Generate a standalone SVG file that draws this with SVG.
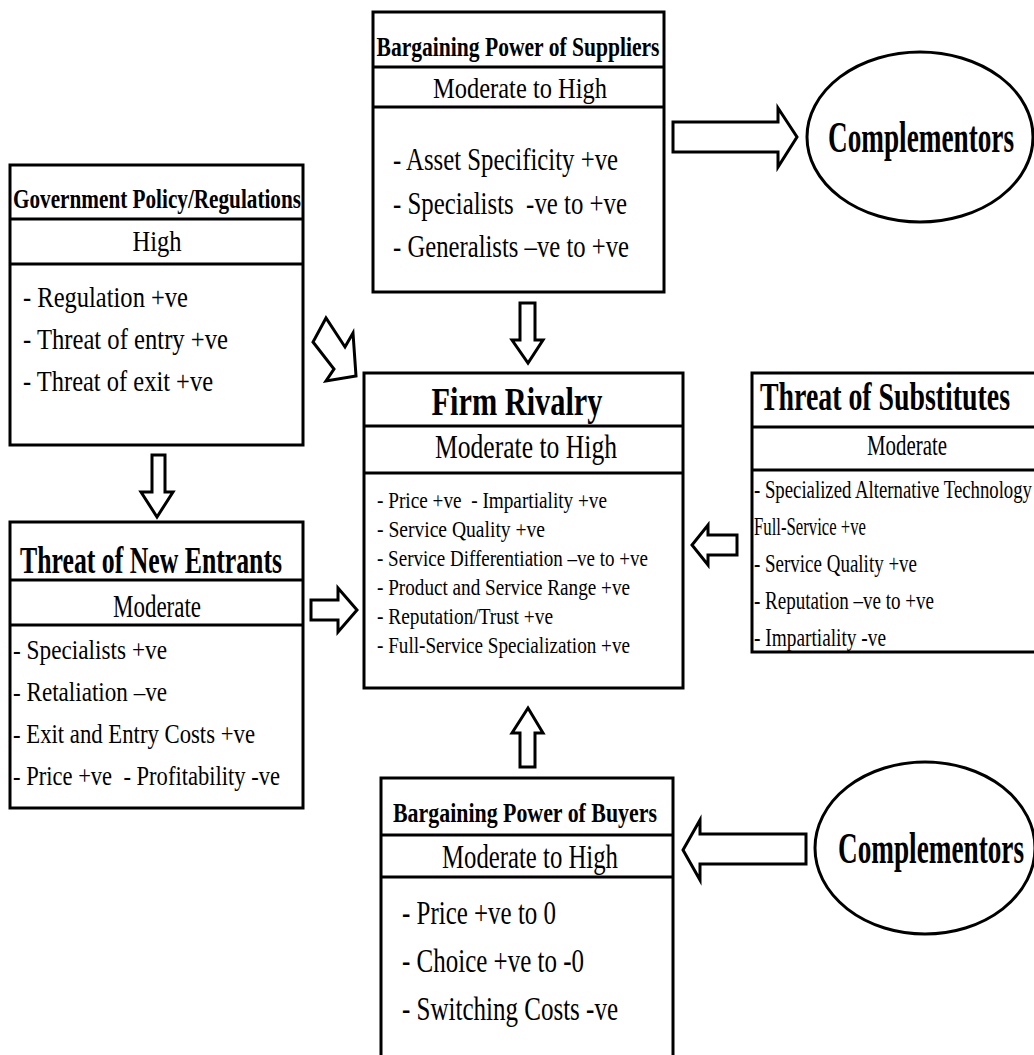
<svg xmlns="http://www.w3.org/2000/svg" width="1034" height="1055" viewBox="0 0 1034 1055">
<style>
.box{fill:#fff;stroke:#000;stroke-width:3}
.ln{stroke:#000;stroke-width:3}
.arr{fill:#fff;stroke:#000;stroke-width:3;stroke-linejoin:miter}
.ell{fill:#fff;stroke:#000;stroke-width:3}
text{font-family:"Liberation Serif","Times New Roman",serif;fill:#000}
.b{font-weight:bold}
.m{text-anchor:middle}
</style>
<rect width="1034" height="1055" fill="#fff"/>

<g id="connectors">
<polygon class="arr" points="673,122 778,122 778,108 797,137 778,167 778,152 673,152"/>
<polygon class="arr" points="520,303 535,303 535,340 543,340 528,363 512,340 520,340"/>
<polygon class="arr" points="326,318 313,342 334,369 326,381 356,376 353,333 345,347"/>
<polygon class="arr" points="152,455 165,455 165,492 173,492 157,517 141,492 152,492"/>
<polygon class="arr" points="311,600 338,600 338,588 357,610 338,632 338,620 311,620"/>
<polygon class="arr" points="737,535 708,535 708,525 692,545 708,565 708,555 737,555"/>
<polygon class="arr" points="520,767 535,767 535,733 543,733 528,708 512,733 520,733"/>
<polygon class="arr" points="806,834 700,834 700,820 683,850 700,880 700,864 806,864"/>
</g>

<g id="suppliers">
<rect class="box" x="373" y="12" width="291" height="280"/>
<line class="ln" x1="373" y1="67" x2="664" y2="67"/>
<line class="ln" x1="373" y1="107" x2="664" y2="107"/>
<text class="b m" x="518" y="56" font-size="27" textLength="283" lengthAdjust="spacingAndGlyphs">Bargaining Power of Suppliers</text>
<text class="m" x="520" y="98" font-size="29" textLength="174" lengthAdjust="spacingAndGlyphs">Moderate to High</text>
<text x="393" y="170" font-size="31" textLength="225" lengthAdjust="spacingAndGlyphs">- Asset Specificity +ve</text>
<text x="393" y="214" font-size="31" textLength="234" lengthAdjust="spacingAndGlyphs">- Specialists&#160; -ve to +ve</text>
<text x="393" y="257" font-size="31" textLength="236" lengthAdjust="spacingAndGlyphs">- Generalists –ve to +ve</text>
</g>

<g id="complementors-top">
<ellipse class="ell" cx="920" cy="137" rx="113" ry="85"/>
<text class="b m" x="921" y="152" font-size="45" textLength="186" lengthAdjust="spacingAndGlyphs">Complementors</text>
</g>

<g id="government">
<rect class="box" x="10" y="165" width="293" height="280"/>
<line class="ln" x1="10" y1="219" x2="303" y2="219"/>
<line class="ln" x1="10" y1="264" x2="303" y2="264"/>
<text class="b" x="13" y="208" font-size="27" textLength="288" lengthAdjust="spacingAndGlyphs">Government Policy/Regulations</text>
<text class="m" x="157" y="251" font-size="30" textLength="49" lengthAdjust="spacingAndGlyphs">High</text>
<text x="23" y="307" font-size="30" textLength="165" lengthAdjust="spacingAndGlyphs">- Regulation +ve</text>
<text x="23" y="349" font-size="30" textLength="205" lengthAdjust="spacingAndGlyphs">- Threat of entry +ve</text>
<text x="23" y="391" font-size="30" textLength="190" lengthAdjust="spacingAndGlyphs">- Threat of exit +ve</text>
</g>

<g id="new-entrants">
<rect class="box" x="10" y="522" width="293" height="286"/>
<line class="ln" x1="10" y1="580" x2="303" y2="580"/>
<line class="ln" x1="10" y1="625" x2="303" y2="625"/>
<text class="b m" x="151" y="573" font-size="37" textLength="262" lengthAdjust="spacingAndGlyphs">Threat of New Entrants</text>
<text class="m" x="157" y="617" font-size="31" textLength="88" lengthAdjust="spacingAndGlyphs">Moderate</text>
<text x="13" y="659" font-size="27" textLength="154" lengthAdjust="spacingAndGlyphs">- Specialists +ve</text>
<text x="13" y="701" font-size="27" textLength="154" lengthAdjust="spacingAndGlyphs">- Retaliation –ve</text>
<text x="13" y="743" font-size="27" textLength="242" lengthAdjust="spacingAndGlyphs">- Exit and Entry Costs +ve</text>
<text x="13" y="785" font-size="27" textLength="267" lengthAdjust="spacingAndGlyphs">- Price +ve&#160; - Profitability -ve</text>
</g>

<g id="firm-rivalry">
<rect class="box" x="364" y="373" width="319" height="315"/>
<line class="ln" x1="364" y1="426" x2="683" y2="426"/>
<line class="ln" x1="364" y1="473" x2="683" y2="473"/>
<text class="b m" x="517" y="415" font-size="39" textLength="171" lengthAdjust="spacingAndGlyphs">Firm Rivalry</text>
<text class="m" x="526" y="458" font-size="33" textLength="182" lengthAdjust="spacingAndGlyphs">Moderate to High</text>
<text x="377" y="508" font-size="24" textLength="230" lengthAdjust="spacingAndGlyphs">- Price +ve&#160; - Impartiality +ve</text>
<text x="377" y="537" font-size="24" textLength="168" lengthAdjust="spacingAndGlyphs">- Service Quality +ve</text>
<text x="377" y="566" font-size="24" textLength="271" lengthAdjust="spacingAndGlyphs">- Service Differentiation –ve to +ve</text>
<text x="377" y="595" font-size="24" textLength="253" lengthAdjust="spacingAndGlyphs">- Product and Service Range +ve</text>
<text x="377" y="624" font-size="24" textLength="176" lengthAdjust="spacingAndGlyphs">- Reputation/Trust +ve</text>
<text x="377" y="653" font-size="24" textLength="253" lengthAdjust="spacingAndGlyphs">- Full-Service Specialization +ve</text>
</g>

<g id="substitutes">
<rect class="box" x="752" y="373" width="290" height="279"/>
<line class="ln" x1="752" y1="427" x2="1034" y2="427"/>
<line class="ln" x1="752" y1="470" x2="1034" y2="470"/>
<text class="b" x="760" y="410" font-size="39" textLength="250" lengthAdjust="spacingAndGlyphs">Threat of Substitutes</text>
<text class="m" x="907" y="455" font-size="29" textLength="80" lengthAdjust="spacingAndGlyphs">Moderate</text>
<text x="754" y="498" font-size="26" textLength="278" lengthAdjust="spacingAndGlyphs">- Specialized Alternative Technology</text>
<text x="754" y="535" font-size="26" textLength="112" lengthAdjust="spacingAndGlyphs">Full-Service +ve</text>
<text x="754" y="572" font-size="26" textLength="163" lengthAdjust="spacingAndGlyphs">- Service Quality +ve</text>
<text x="754" y="609" font-size="26" textLength="180" lengthAdjust="spacingAndGlyphs">- Reputation –ve to +ve</text>
<text x="754" y="646" font-size="26" textLength="132" lengthAdjust="spacingAndGlyphs">- Impartiality -ve</text>
</g>

<g id="buyers">
<rect class="box" x="381" y="778" width="292" height="290"/>
<line class="ln" x1="381" y1="835" x2="673" y2="835"/>
<line class="ln" x1="381" y1="877" x2="673" y2="877"/>
<text class="b m" x="525" y="822" font-size="28" textLength="264" lengthAdjust="spacingAndGlyphs">Bargaining Power of Buyers</text>
<text class="m" x="530" y="868" font-size="33" textLength="176" lengthAdjust="spacingAndGlyphs">Moderate to High</text>
<text x="402" y="924" font-size="33" textLength="154" lengthAdjust="spacingAndGlyphs">- Price +ve to 0</text>
<text x="402" y="972" font-size="33" textLength="182" lengthAdjust="spacingAndGlyphs">- Choice +ve to -0</text>
<text x="402" y="1020" font-size="33" textLength="216" lengthAdjust="spacingAndGlyphs">- Switching Costs -ve</text>
</g>

<g id="complementors-bottom">
<ellipse class="ell" cx="925" cy="848" rx="110" ry="86"/>
<text class="b m" x="931" y="863" font-size="45" textLength="186" lengthAdjust="spacingAndGlyphs">Complementors</text>
</g>
</svg>
